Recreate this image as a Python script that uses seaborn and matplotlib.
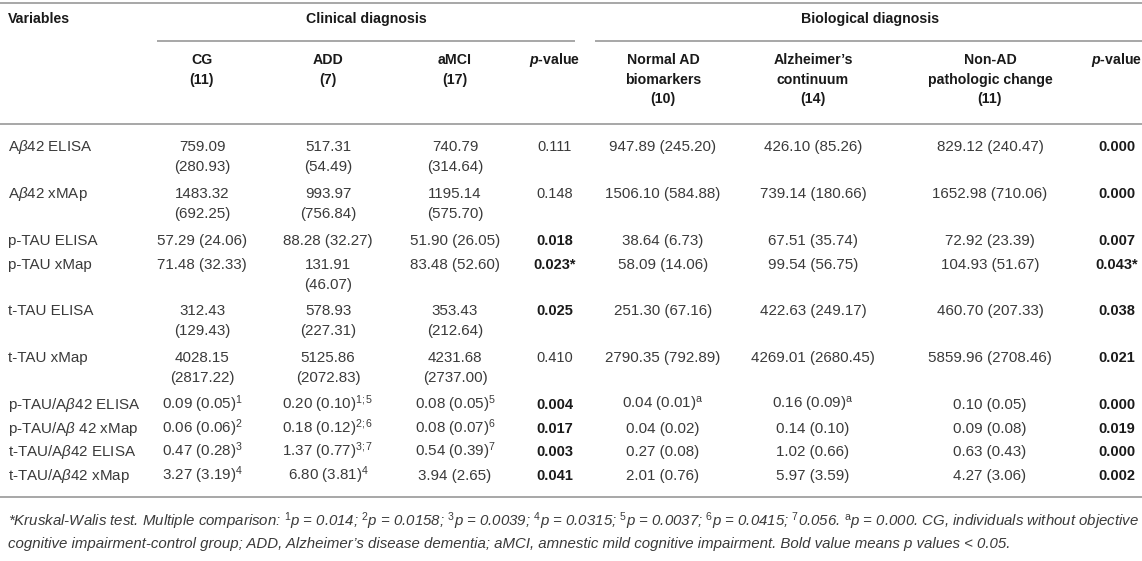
import matplotlib
matplotlib.use("Agg")
import matplotlib.pyplot as plt
import seaborn as sns

sns.set_theme(style="white")
plt.rcParams['font.family'] = ['Liberation Sans', 'DejaVu Sans']
plt.rcParams['mathtext.fontset'] = 'custom'
plt.rcParams['mathtext.rm'] = 'Liberation Sans'
plt.rcParams['mathtext.it'] = 'Liberation Sans:italic'
plt.rcParams['mathtext.bf'] = 'Liberation Sans:bold'
try:
    plt.rcParams['mathtext.bfit'] = 'Liberation Sans:italic:bold'
except Exception:
    pass

# ---------------- data ----------------
variables = ["A$\\beta$42 ELISA", "A$\\beta$42 xMAp", "p-TAU ELISA", "p-TAU xMap",
             "t-TAU ELISA", "t-TAU xMap", "p-TAU/A$\\beta$42 ELISA",
             "p-TAU/A$\\beta$ 42 xMap", "t-TAU/A$\\beta$42 ELISA", "t-TAU/A$\\beta$42 xMap"]

clin_headers = ["CG\n(11)", "ADD\n(7)", "aMCI\n(17)"]
bio_headers = ["Normal AD\nbiomarkers\n(10)", "Alzheimer’s\ncontinuum\n(14)",
               "Non-AD\npathologic change\n(11)"]

cg = ["759.09\n(280.93)", "1483.32\n(692.25)", "57.29 (24.06)", "71.48 (32.33)",
      "312.43\n(129.43)", "4028.15\n(2817.22)", "0.09 (0.05)$^{1}$", "0.06 (0.06)$^{2}$",
      "0.47 (0.28)$^{3}$", "3.27 (3.19)$^{4}$"]
add = ["517.31\n(54.49)", "993.97\n(756.84)", "88.28 (32.27)", "131.91\n(46.07)",
       "578.93\n(227.31)", "5125.86\n(2072.83)", "0.20 (0.10)$^{1{;}5}$", "0.18 (0.12)$^{2{;}6}$",
       "1.37 (0.77)$^{3{;}7}$", "6.80 (3.81)$^{4}$"]
amci = ["740.79\n(314.64)", "1195.14\n(575.70)", "51.90 (26.05)", "83.48 (52.60)",
        "353.43\n(212.64)", "4231.68\n(2737.00)", "0.08 (0.05)$^{5}$", "0.08 (0.07)$^{6}$",
        "0.54 (0.39)$^{7}$", "3.94 (2.65)"]
p_clin = ["0.111", "0.148", "0.018", "0.023*", "0.025", "0.410", "0.004", "0.017", "0.003", "0.041"]

normal = ["947.89 (245.20)", "1506.10 (584.88)", "38.64 (6.73)", "58.09 (14.06)",
          "251.30 (67.16)", "2790.35 (792.89)", "0.04 (0.01)$^{\\mathrm{a}}$", "0.04 (0.02)",
          "0.27 (0.08)", "2.01 (0.76)"]
alz = ["426.10 (85.26)", "739.14 (180.66)", "67.51 (35.74)", "99.54 (56.75)",
       "422.63 (249.17)", "4269.01 (2680.45)", "0.16 (0.09)$^{\\mathrm{a}}$", "0.14 (0.10)",
       "1.02 (0.66)", "5.97 (3.59)"]
nonad = ["829.12 (240.47)", "1652.98 (710.06)", "72.92 (23.39)", "104.93 (51.67)",
         "460.70 (207.33)", "5859.96 (2708.46)", "0.10 (0.05)", "0.09 (0.08)",
         "0.63 (0.43)", "4.27 (3.06)"]
p_bio = ["0.000", "0.000", "0.007", "0.043*", "0.038", "0.021", "0.000", "0.019", "0.000", "0.002"]

footnote1 = ("*Kruskal-Walis test. Multiple comparison: $^{1}$p = 0.014; $^{2}$p = 0.0158; "
             "$^{3}$p = 0.0039; $^{4}$p = 0.0315; $^{5}$p = 0.0037; $^{6}$p = 0.0415; "
             "$^{7}$0.056. $^{\\mathrm{a}}$p = 0.000. CG, individuals without objective")
footnote2 = ("cognitive impairment-control group; ADD, Alzheimer’s disease dementia; aMCI, "
             "amnestic mild cognitive impairment. Bold value means p values < 0.05.")

# ---------------- layout ----------------
W, H = 1142, 561
fig = plt.figure(figsize=(W / 100, H / 100), dpi=100)
ax = fig.add_axes([0, 0, 1, 1])
ax.set_xlim(0, W)
ax.set_ylim(H, 0)
ax.axis("off")

body_color = "#3a3a3a"
head_color = "#1a1a1a"
line_color = "#a0a0a0"
fs_body = 10.9
fs_head = 10.2
lh = 19.5
boff = 5  # baseline offset from line center

col_x = [202, 328, 455, 555, 663, 813, 990, 1117]
row_y = [146, 193, 240, 264, 310, 357, 404, 428, 451, 475]

def hline(y, x0=0, x1=W, lw=1.3):
    ax.plot([x0, x1], [y, y], color=line_color, lw=lw, solid_capstyle="butt")

def put(x, y, s, ha="center", bold=False, color=body_color, size=fs_body, style="normal"):
    for i, part in enumerate(s.split("\n")):
        ax.text(x, y + i * lh + boff, part, ha=ha, va="baseline", fontsize=size,
                fontweight="bold" if bold else "normal", color=color, fontstyle=style)

# rules
hline(3)
hline(41, 157, 575)
hline(41, 595, W)
hline(124)
hline(497)

# header
put(8, 18, "Variables", ha="left", bold=True, color=head_color, size=fs_head)
put(366, 18, "Clinical diagnosis", bold=True, color=head_color, size=fs_head)
put(870, 18, "Biological diagnosis", bold=True, color=head_color, size=fs_head)
for x, s in zip(col_x[:3], clin_headers):
    put(x, 59, s, bold=True, color=head_color, size=fs_head)
for x, s in zip(col_x[4:7], bio_headers):
    put(x, 59, s, bold=True, color=head_color, size=fs_head)
for x in (col_x[3], col_x[7]):
    put(x, 59, "$\\mathbfit{p}$-value", bold=True, color=head_color, size=fs_head)

# body
columns = [cg, add, amci, p_clin, normal, alz, nonad, p_bio]
for r, y in enumerate(row_y):
    put(8, y, variables[r], ha="left")
    for c, (x, col) in enumerate(zip(col_x, columns)):
        s = col[r]
        if c in (3, 7):
            sig = float(s.rstrip("*")) < 0.05
            put(x, y, s, bold=sig, color=head_color if sig else body_color, size=fs_head + 0.3)
        else:
            put(x, y, s)

# footnote
put(8, 521, footnote1, ha="left", size=10.8, style="italic")
put(8, 543, footnote2, ha="left", size=10.8, style="italic")

fig.savefig("out.png", dpi=100, facecolor="white")
